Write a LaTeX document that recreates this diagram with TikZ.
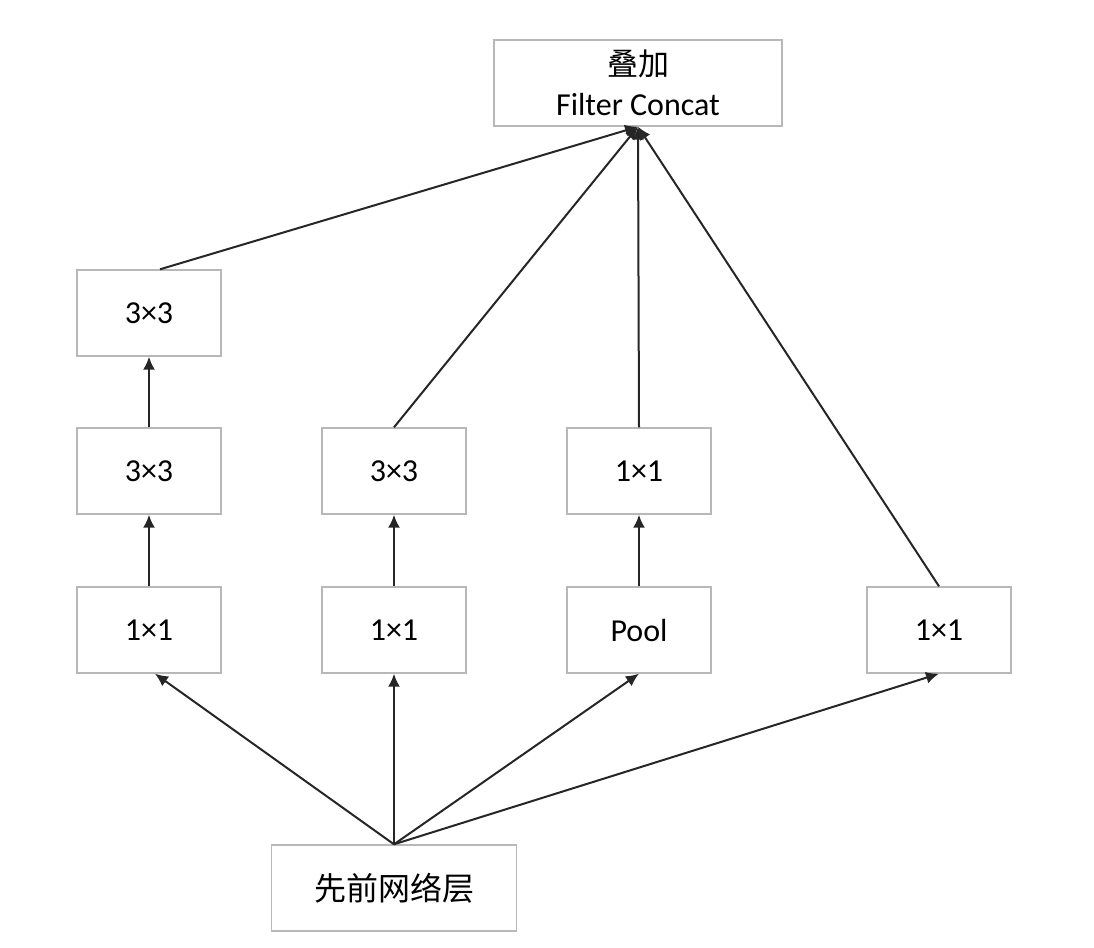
\documentclass[tikz,border=0pt]{standalone}
\usepackage{fontspec}
\setmainfont{Carlito}
\newfontfamily\cjk{Noto Sans CJK SC}
\usepackage{tikz}
\usetikzlibrary{arrows.meta,positioning}

\begin{document}
\begin{tikzpicture}[x=0.5pt,y=-0.5pt,
    box/.style={draw=black!28, line width=0.7pt, fill=white, inner sep=0pt,
        minimum width=72pt, minimum height=43pt, font=\fontsize{16}{20}\selectfont},
    link/.style={-{Latex[length=6.5pt,width=6pt]}, line width=1pt, black!85}]
    % Frame of the picture
    \useasboundingbox (0,0) rectangle (1094,948);

    % Boxes
    \node[box, minimum width=144pt, align=center] (concat) at (638,83)
        {{\cjk\fontsize{15.5}{18}\selectfont 叠加}\\[0pt]Filter Concat};
    \node[box] (a3) at (149,313) {3×3};
    \node[box] (a2) at (149,471) {3×3};
    \node[box] (a1) at (149,630) {1×1};
    \node[box] (b2) at (394,471) {3×3};
    \node[box] (b1) at (394,630) {1×1};
    \node[box] (c2) at (639,471) {1×1};
    \node[box] (c1) at (639,630) {Pool};
    \node[box] (d1) at (939,630) {1×1};
    \node[box, minimum width=122.5pt] (prev) at (394,888)
        {\cjk\fontsize{16}{18}\selectfont 先前网络层};

    % Previous layer to the branches
    \draw[link] (prev.north) -- ([xshift=3pt]a1.south);
    \foreach \n in {b1,c1,d1}
        \draw[link] (prev.north) -- (\n.south);

    % Inside the branches
    \draw[link] (a1) -- (a2);
    \draw[link] (a2) -- (a3);
    \draw[link] (b1) -- (b2);
    \draw[link] (c1) -- (c2);

    % Branches to the concat
    \draw[link] ([xshift=5.5pt]a3.north) -- (concat.south);
    \foreach \n in {b2,c2,d1}
        \draw[link] (\n.north) -- (concat.south);
\end{tikzpicture}
\end{document}
